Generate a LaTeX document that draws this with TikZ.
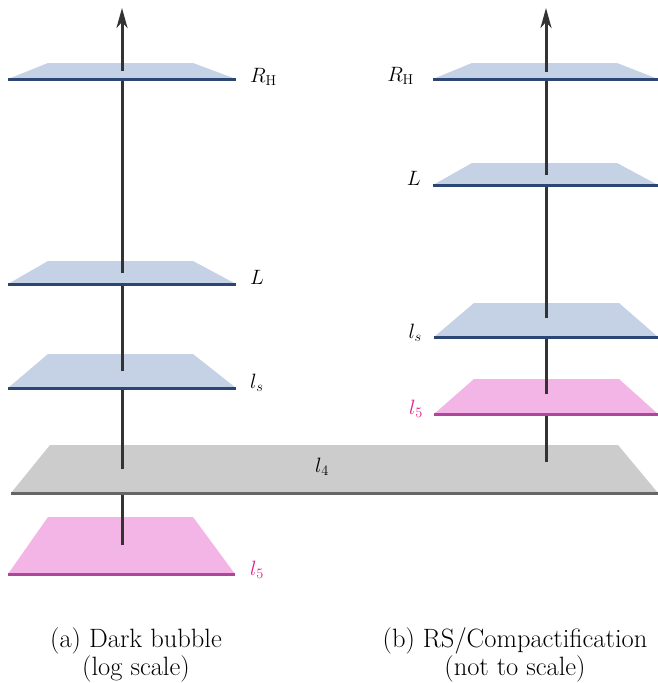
\documentclass[tikz,border=0pt]{standalone}
\usetikzlibrary{arrows.meta}
\definecolor{bluefill}{RGB}{197,209,228}
\definecolor{blueline}{RGB}{44,70,115}
\definecolor{pinkfill}{RGB}{243,180,230}
\definecolor{pinkline}{RGB}{176,70,155}
\definecolor{grayfill}{RGB}{204,204,204}
\definecolor{grayline}{RGB}{102,102,102}
\definecolor{axiscol}{RGB}{51,51,51}
\definecolor{labmag}{RGB}{228,30,140}
\begin{document}
\begin{tikzpicture}[x=1pt,y=-1pt,
  axis/.style={draw=axiscol,line width=3pt},
  bluefillst/.style={fill=bluefill},
  pinkfillst/.style={fill=pinkfill},
  grayfillst/.style={fill=grayfill},
  blueedge/.style={draw=blueline,line width=3pt},
  pinkedge/.style={draw=pinkline,line width=3pt},
  grayedge/.style={draw=grayline,line width=3pt},
  lab/.style={inner sep=0pt,font=\fontsize{22.5}{27}\selectfont},
  captext/.style={inner sep=0pt,align=center,font=\fontsize{26.5}{28.5}\selectfont},
  arr/.style={-{Stealth[length=20pt,width=11pt,inset=6pt]}}]
\useasboundingbox (0,0) rectangle (658,683);
% ---------- left column ----------
\coordinate (a5) at (122,545);
\coordinate (a4) at (122,469);
\coordinate (as) at (122,371);
\coordinate (aL) at (122,273);
\coordinate (aR) at (122,71);
\coordinate (atop) at (122,8);
% l5 (left)
\fill[pinkfillst] (8,574) -- (48,517) -- (193,517) -- (235,574) -- cycle;
\draw[pinkedge] (8,574) -- (235,574);
\draw[axis] (a5) -- (a4);
% l4 (shared)
\fill[grayfillst] (11,493) -- (50,445) -- (618,445) -- (658,493) -- cycle;
\draw[grayedge] (11,493) -- (658,493);
\draw[axis] (a4) -- (as);
% ls
\fill[bluefillst] (8,388) -- (48,354) -- (193,354) -- (236,388) -- cycle;
\draw[blueedge] (8,388) -- (236,388);
\draw[axis] (as) -- (aL);
% L
\fill[bluefillst] (8,284) -- (48,261) -- (193,261) -- (236,284) -- cycle;
\draw[blueedge] (8,284) -- (236,284);
\draw[axis] (aL) -- (aR);
% RH
\fill[bluefillst] (8,79) -- (48,63) -- (193,63) -- (236,79) -- cycle;
\draw[blueedge] (8,79) -- (236,79);
\draw[axis,arr] (aR) -- (atop);
% left labels
\node[lab,anchor=base west] (lRH) at (250,82) {$R_{\mathrm{H}}$};
\node[lab,anchor=base west] (lL) at (250,284) {$L$};
\node[lab,anchor=base west] (lls) at (250,388) {$l_s$};
\node[lab,anchor=base west,text=labmag] (ll5) at (250,575) {$l_5$};
\node[lab,anchor=base] (l4) at (322,472) {$l_4$};
% ---------- right column ----------
\coordinate (b4) at (546,462);
\coordinate (b5) at (546,394);
\coordinate (bs) at (546,318);
\coordinate (bL) at (546,175);
\coordinate (bR) at (546,72);
\coordinate (btop) at (546,8);
\draw[axis] (b4) -- (b5);
% l5 (right)
\fill[pinkfillst] (434,414) -- (474,379) -- (619,379) -- (658,414) -- cycle;
\draw[pinkedge] (434,414) -- (658,414);
\draw[axis] (b5) -- (bs);
% ls
\fill[bluefillst] (434,337) -- (474,303) -- (619,303) -- (658,337) -- cycle;
\draw[blueedge] (434,337) -- (658,337);
\draw[axis] (bs) -- (bL);
% L
\fill[bluefillst] (433,185) -- (472,163) -- (617,163) -- (658,185) -- cycle;
\draw[blueedge] (433,185) -- (658,185);
\draw[axis] (bL) -- (bR);
% RH
\fill[bluefillst] (433,79) -- (472,63) -- (617,63) -- (658,79) -- cycle;
\draw[blueedge] (433,79) -- (658,79);
\draw[axis,arr] (bR) -- (btop);
% right labels
\node[lab,anchor=base east] (rRH) at (414,81) {$R_{\mathrm{H}}$};
\node[lab,anchor=base east] (rL) at (421,185) {$L$};
\node[lab,anchor=base east] (rls) at (422,338) {$l_s$};
\node[lab,anchor=base east,text=labmag] (rl5) at (423,414) {$l_5$};
% captions
\node[captext] (capa) at (136,655) {(a) Dark bubble\\(log scale)};
\node[captext] (capb) at (515,655) {(b) RS/Compactification\\(not to scale)};
\end{tikzpicture}
\end{document}
